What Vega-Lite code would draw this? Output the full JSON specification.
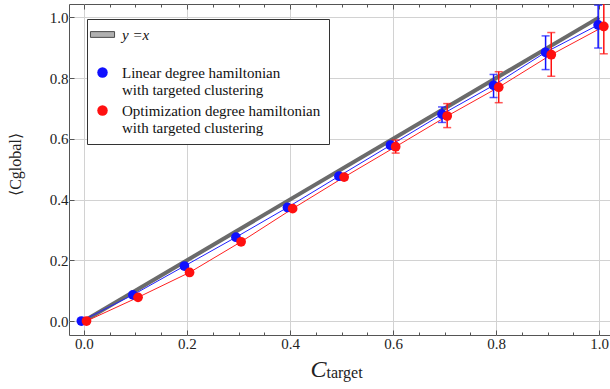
{
  "$schema": "https://vega.github.io/schema/vega-lite/v6.json",
  "width": 541,
  "height": 331,
  "autosize": {"type": "none"},
  "padding": {"left": 69, "top": 4, "right": 0, "bottom": 54},
  "background": "white",
  "config": {
    "view": {"stroke": "#555", "strokeWidth": 1},
    "axis": {
      "labelFont": "Liberation Serif",
      "titleFont": "Liberation Serif",
      "labelFontSize": 15,
      "labelColor": "#222",
      "titleColor": "#222",
      "titleFontWeight": "normal",
      "gridColor": "#d2d2d2",
      "gridWidth": 1,
      "tickColor": "#555",
      "domain": false
    }
  },
  "title": {
    "text": "target",
    "orient": "bottom",
    "frame": "group",
    "anchor": "middle",
    "dx": 5,
    "dy": -20,
    "fontSize": 16,
    "font": "Liberation Serif",
    "fontWeight": "normal",
    "color": "#222"
  },
  "datasets": {
    "diag": [
      {"x": 0, "y": 0},
      {"x": 1, "y": 1}
    ],
    "pts": [
      {"s": "lin", "x": -0.005, "y": 0.0},
      {"s": "lin", "x": 0.095, "y": 0.086},
      {"s": "lin", "x": 0.195, "y": 0.181},
      {"s": "lin", "x": 0.295, "y": 0.276},
      {"s": "lin", "x": 0.395, "y": 0.374},
      {"s": "lin", "x": 0.495, "y": 0.477, "lo": 0.470, "hi": 0.484},
      {"s": "lin", "x": 0.595, "y": 0.579, "lo": 0.570, "hi": 0.588},
      {"s": "lin", "x": 0.695, "y": 0.681, "lo": 0.654, "hi": 0.705},
      {"s": "lin", "x": 0.795, "y": 0.776, "lo": 0.736, "hi": 0.812},
      {"s": "lin", "x": 0.896, "y": 0.885, "lo": 0.828, "hi": 0.939},
      {"s": "lin", "x": 0.998, "y": 0.975, "lo": 0.899, "hi": 1.040},
      {"s": "opt", "x": 0.005, "y": 0.0},
      {"s": "opt", "x": 0.105, "y": 0.078},
      {"s": "opt", "x": 0.205, "y": 0.160},
      {"s": "opt", "x": 0.305, "y": 0.261},
      {"s": "opt", "x": 0.405, "y": 0.370},
      {"s": "opt", "x": 0.505, "y": 0.474, "lo": 0.466, "hi": 0.482},
      {"s": "opt", "x": 0.605, "y": 0.574, "lo": 0.553, "hi": 0.596},
      {"s": "opt", "x": 0.705, "y": 0.675, "lo": 0.637, "hi": 0.716},
      {"s": "opt", "x": 0.805, "y": 0.770, "lo": 0.719, "hi": 0.821},
      {"s": "opt", "x": 0.907, "y": 0.877, "lo": 0.806, "hi": 0.950},
      {"s": "opt", "x": 1.009, "y": 0.970, "lo": 0.880, "hi": 1.060}
    ]
  },
  "layer": [
    {
      "data": {"name": "diag"},
      "mark": {"type": "line", "color": "#6b6b6b", "strokeWidth": 4},
      "encoding": {
        "x": {
          "field": "x", "type": "quantitative",
          "scale": {"domain": [-0.029, 1.021], "nice": false, "zero": false},
          "axis": {
            "values": [0,0.05,0.1,0.15,0.2,0.25,0.3,0.35,0.4,0.45,0.5,0.55,0.6,0.65,0.7,0.75,0.8,0.85,0.9,0.95,1.0],
            "labelExpr": "abs(datum.value*5-round(datum.value*5))<1e-6 ? format(datum.value,'.1f') : ''",
            "tickSize": {"condition": {"test": "abs(datum.value*5-round(datum.value*5))<1e-6", "value": -5}, "value": -3},
            "gridOpacity": {"condition": {"test": "abs(datum.value*5-round(datum.value*5))<1e-6", "value": 1}, "value": 0},
            "labelPadding": 6,
            "title": "C",
            "titleFontStyle": "italic",
            "titleFontSize": 24,
            "titleX": 249,
            "titleY": 41,
            "titleAlign": "center",
            "titleBaseline": "alphabetic"
          }
        },
        "y": {
          "field": "y", "type": "quantitative",
          "scale": {"domain": [-0.046, 1.044], "nice": false, "zero": false},
          "axis": {
            "values": [0,0.05,0.1,0.15,0.2,0.25,0.3,0.35,0.4,0.45,0.5,0.55,0.6,0.65,0.7,0.75,0.8,0.85,0.9,0.95,1.0],
            "labelExpr": "abs(datum.value*5-round(datum.value*5))<1e-6 ? format(datum.value,'.1f') : ''",
            "tickSize": {"condition": {"test": "abs(datum.value*5-round(datum.value*5))<1e-6", "value": -5}, "value": -3},
            "gridOpacity": {"condition": {"test": "abs(datum.value*5-round(datum.value*5))<1e-6", "value": 1}, "value": 0},
            "labelPadding": 6,
            "title": "⟨Cglobal⟩",
            "titleFontSize": 16,
            "titleAngle": -90,
            "titleX": -54,
            "titleY": 160,
            "titleAlign": "center",
            "titleBaseline": "middle"
          }
        }
      }
    },
    {
      "data": {"name": "pts"},
      "transform": [{"filter": "datum.s == 'lin'"}],
      "mark": {"type": "line", "color": "#2020ff", "strokeWidth": 1},
      "encoding": {
        "x": {"field": "x", "type": "quantitative", "axis": null},
        "y": {"field": "y", "type": "quantitative"}
      }
    },
    {
      "data": {"name": "pts"},
      "transform": [{"filter": "datum.s == 'opt'"}],
      "mark": {"type": "line", "color": "#ff2020", "strokeWidth": 1},
      "encoding": {
        "x": {"field": "x", "type": "quantitative", "axis": null},
        "y": {"field": "y", "type": "quantitative"}
      }
    },
    {
      "data": {"name": "pts"},
      "transform": [{"filter": "isValid(datum.lo)"}],
      "mark": {"type": "rule", "strokeWidth": 1.5, "clip": true},
      "encoding": {
        "x": {"field": "x", "type": "quantitative", "axis": null},
        "y": {"field": "lo", "type": "quantitative"},
        "y2": {"field": "hi"},
        "color": {"condition": {"test": "datum.s == 'lin'", "value": "#1010ff"}, "value": "#ff1010"}
      }
    },
    {
      "data": {"name": "pts"},
      "transform": [{"filter": "isValid(datum.lo)"}],
      "mark": {"type": "tick", "orient": "horizontal", "size": 8, "thickness": 1.5, "clip": true},
      "encoding": {
        "x": {"field": "x", "type": "quantitative", "axis": null},
        "y": {"field": "lo", "type": "quantitative"},
        "color": {"condition": {"test": "datum.s == 'lin'", "value": "#1010ff"}, "value": "#ff1010"}
      }
    },
    {
      "data": {"name": "pts"},
      "transform": [{"filter": "isValid(datum.hi)"}],
      "mark": {"type": "tick", "orient": "horizontal", "size": 8, "thickness": 1.5, "clip": true},
      "encoding": {
        "x": {"field": "x", "type": "quantitative", "axis": null},
        "y": {"field": "hi", "type": "quantitative"},
        "color": {"condition": {"test": "datum.s == 'lin'", "value": "#1010ff"}, "value": "#ff1010"}
      }
    },
    {
      "data": {"name": "pts"},
      "mark": {"type": "point", "filled": true, "size": 95, "opacity": 1, "shape": "circle"},
      "encoding": {
        "x": {
          "field": "x", "type": "quantitative",
          "axis": {
            "orient": "top",
            "values": [0,0.05,0.1,0.15,0.2,0.25,0.3,0.35,0.4,0.45,0.5,0.55,0.6,0.65,0.7,0.75,0.8,0.85,0.9,0.95,1.0],
            "labels": false,
            "grid": false,
            "title": null,
            "tickSize": {"condition": {"test": "abs(datum.value*5-round(datum.value*5))<1e-6", "value": -5}, "value": -3}
          }
        },
        "y": {"field": "y", "type": "quantitative"},
        "color": {
          "field": "s", "type": "nominal",
          "scale": {"domain": ["yx", "lin", "opt"], "range": ["#b0b0b0", "#1010ff", "#ff1010"]},
          "legend": {
            "orient": "none",
            "legendX": 18,
            "legendY": 15,
            "title": null,
            "fillColor": "white",
            "strokeColor": "#333",
            "padding": 8,
            "labelFont": "Liberation Serif",
            "labelFontSize": 15,
            "labelColor": "#111",
            "labelLimit": 400,
            "symbolSize": 110,
            "symbolOpacity": 1,
            "labelOffset": 12,
            "rowPadding": 5,
            "labelExpr": "datum.value == 'yx' ? ['y =x', ''] : datum.value == 'lin' ? ['Linear degree hamiltonian', 'with targeted clustering'] : ['Optimization degree hamiltonian', 'with targeted clustering']",
            "encode": {
              "symbols": {
                "update": {
                  "shape": {"signal": "datum.value == 'yx' ? 'M-2.3,-0.55H2.3V0.55H-2.3Z' : 'circle'"},
                  "stroke": {"signal": "datum.value == 'yx' ? '#4a4a4a' : 'transparent'"},
                  "strokeWidth": {"value": 1}
                }
              },
              "labels": {
                "update": {
                  "fontStyle": {"signal": "datum.value == 'yx' ? 'italic' : 'normal'"},
                  "lineHeight": {"value": 17}
                }
              }
            }
          }
        }
      }
    }
  ],
  "resolve": {"axis": {"x": "independent"}}
}
